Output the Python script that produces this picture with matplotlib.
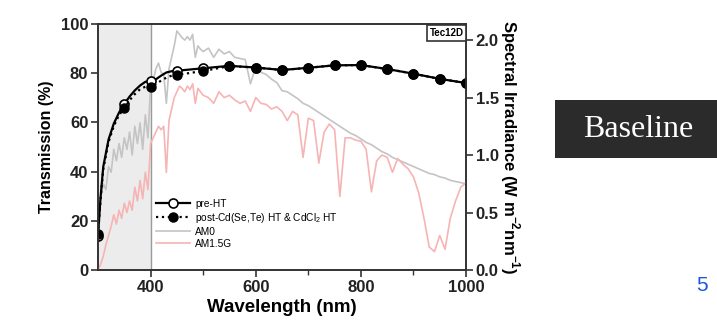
import numpy as np
import matplotlib
matplotlib.use("Agg")
import matplotlib.pyplot as plt
from matplotlib.patches import Rectangle

plt.rcParams["font.family"] = ["Liberation Sans", "DejaVu Sans"]
plt.rcParams["mathtext.fontset"] = "custom"
plt.rcParams["mathtext.rm"] = "Liberation Sans"
plt.rcParams["mathtext.bf"] = "Liberation Sans:bold"

# transmission curves (%)
trans_wl = [300, 305, 310, 320, 330, 340, 350, 360, 370, 380, 390, 400, 410, 420,
            430, 440, 450, 500, 550, 600, 650, 700, 750, 800, 850, 900, 950, 1000]
pre_ht = [14.0, 30.0, 42.0, 53.0, 59.5, 64.0, 67.5, 70.5, 73.0, 75.0, 76.5, 76.8, 77.5, 79.0,
          80.3, 80.8, 81.0, 82.0, 83.0, 82.3, 81.3, 82.2, 83.2, 83.3, 81.7, 79.8, 77.7, 76.0]
post_ht = [14.5, 29.0, 41.0, 52.0, 58.5, 63.0, 65.7, 69.0, 71.5, 73.5, 74.5, 74.3, 75.5, 77.0,
           78.2, 79.0, 79.3, 80.9, 82.9, 82.3, 81.3, 82.2, 83.2, 83.3, 81.7, 79.8, 77.7, 76.0]
marker_wl = [300, 350, 400, 450, 500, 550, 600, 650, 700, 750, 800, 850, 900, 950, 1000]

# solar spectra (W m-2 nm-1)
spec_wl = np.concatenate([np.arange(300, 505, 5), np.arange(510, 1010, 10)])
am0 = [0.55, 0.62, 0.75, 0.70, 0.90, 0.85, 1.05, 0.95, 1.10, 0.98, 1.15, 1.05, 1.20, 1.00,
       1.25, 1.10, 1.28, 1.05, 1.35, 1.15, 1.60, 1.65, 1.75, 1.80, 1.72, 1.70, 1.45, 1.75,
       1.85, 1.95, 2.08, 2.05, 2.02, 2.00, 2.03, 2.00, 2.05, 1.85, 1.95, 1.92, 1.90,
       1.93, 1.85, 1.92, 1.88, 1.90, 1.85, 1.84, 1.83, 1.62, 1.77, 1.72, 1.70, 1.66, 1.63,
       1.56, 1.55, 1.52, 1.49, 1.45, 1.43, 1.40, 1.37, 1.34, 1.31, 1.28, 1.25, 1.22, 1.19,
       1.17, 1.14, 1.11, 1.09, 1.06, 1.03, 1.01, 0.98, 0.96, 0.94, 0.92, 0.90, 0.88, 0.86,
       0.84, 0.83, 0.81, 0.80, 0.78, 0.77, 0.76, 0.75]
am15g = [0.00, 0.05, 0.12, 0.22, 0.30, 0.38, 0.48, 0.40, 0.52, 0.45, 0.58, 0.50, 0.60, 0.52,
         0.72, 0.60, 0.78, 0.62, 0.85, 0.70, 1.10, 1.15, 1.20, 1.25, 1.22, 1.25, 0.85, 1.30,
         1.40, 1.50, 1.55, 1.60, 1.58, 1.55, 1.60, 1.57, 1.62, 1.45, 1.58, 1.55, 1.52,
         1.50, 1.45, 1.55, 1.50, 1.52, 1.48, 1.45, 1.47, 1.38, 1.50, 1.45, 1.44, 1.40, 1.42,
         1.38, 1.30, 1.38, 1.35, 0.98, 1.32, 1.30, 0.93, 1.20, 1.27, 1.22, 0.64, 1.15, 1.15,
         1.13, 1.12, 1.05, 0.68, 0.95, 1.00, 0.98, 0.85, 0.97, 0.92, 0.88, 0.81, 0.67, 0.45,
         0.20, 0.16, 0.30, 0.18, 0.45, 0.60, 0.72, 0.76]

x_ticks = [400, 600, 800, 1000]
x_minor = [500, 700, 900]
t_ticks = [0, 20, 40, 60, 80, 100]
s_ticks = [0.0, 0.5, 1.0, 1.5, 2.0]

fig = plt.figure(figsize=(7.17, 3.27), dpi=100)
ax = fig.add_axes([0.1367, 0.1743, 0.5133, 0.7523])
ax2 = ax.twinx()

ax2.axvspan(300, 400, color="#ececec", zorder=0, lw=0)
ax2.axvline(400, color="#9a9a9a", lw=1.0, zorder=1)
l_am0, = ax2.plot(spec_wl, am0, color="#c4c4c4", lw=1.2, zorder=2, label="AM0")
l_am15, = ax2.plot(spec_wl, am15g, color="#f6b4b4", lw=1.2, zorder=3, label="AM1.5G")
ax2.set_ylim(0, 2.14)
ax2.set_yticks(s_ticks)
ax2.set_yticklabels([f"{v:.1f}" for v in s_ticks])
ax2.set_ylabel(r"Spectral Irradiance (W m$^{\mathbf{-2}}$nm$^{\mathbf{-1}}$)",
               rotation=270, labelpad=16, fontsize=12, fontweight="bold")

ax.set_zorder(ax2.get_zorder() + 1)
ax.patch.set_visible(False)

mark_pre = [trans_wl.index(w) for w in marker_wl]
l_pre, = ax.plot(trans_wl, pre_ht, "-", color="black", lw=1.6, marker="o", ms=6.5,
                 mfc="white", mec="black", mew=1.2, markevery=mark_pre, label="pre-HT")
l_post, = ax.plot(trans_wl, post_ht, ":", color="black", lw=1.6, marker="o", ms=6.5,
                  mfc="black", mec="black", markevery=mark_pre,
                  label=r"post-Cd(Se,Te) HT & CdCl$_2$ HT")

ax.set_xlim(300, 1000)
ax.set_ylim(0, 100)
ax.set_xticks(x_ticks)
ax.set_xticks(x_minor, minor=True)
ax.set_yticks(t_ticks)
ax.set_xlabel("Wavelength (nm)", fontsize=13.5, fontweight="bold", labelpad=3)
ax.set_ylabel("Transmission (%)", fontsize=11.5, fontweight="bold", labelpad=5)

for a in (ax, ax2):
    for s in a.spines.values():
        s.set_color("#333333")
        s.set_linewidth(1.2)
    a.tick_params(which="major", direction="out", length=5, width=1.2, color="#333333",
                  labelsize=12, pad=2)
    a.tick_params(which="minor", direction="out", length=3.5, width=1.0, color="#333333")
    for lab in a.get_xticklabels() + a.get_yticklabels():
        lab.set_fontweight("bold")
        lab.set_color("#222222")

ax.legend(handles=[l_pre, l_post, l_am0, l_am15], loc="upper left",
          bbox_to_anchor=(0.145, 0.31), frameon=False, fontsize=7.3,
          handlelength=3.3, handletextpad=0.5, labelspacing=0.2, borderpad=0)

ax.text(0.993, 0.985, "Tec12D", transform=ax.transAxes, ha="right", va="top",
        fontsize=7, fontweight="bold",
        bbox=dict(boxstyle="square,pad=0.3", fc="white", ec="#333333", lw=1.2))

fig.patches.append(Rectangle((0.774, 0.517), 0.226, 0.177, transform=fig.transFigure,
                             facecolor="#2b2b2b", edgecolor="none"))
fig.text(0.89, 0.6055, "Baseline", ha="center", va="center", color="white",
         fontsize=23, family="Liberation Serif")
fig.text(0.979, 0.128, "5", ha="center", va="center", color="#1a56db", fontsize=15,
         family="Liberation Sans")

fig.savefig("out.png", dpi=100)
